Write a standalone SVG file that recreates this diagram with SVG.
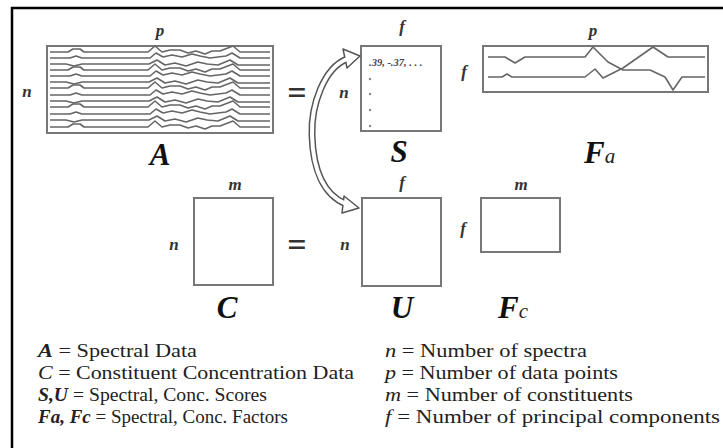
<svg xmlns="http://www.w3.org/2000/svg" width="723" height="448" viewBox="0 0 723 448">
  <style>
    .frame { fill: none; stroke: #000; stroke-width: 2.5; }
    .mat { fill: #fff; stroke: #777; stroke-width: 2; }
    .spec { fill: none; stroke: #666; stroke-width: 1.6; stroke-linejoin: round; }
    .dim { font-family: "Liberation Serif", serif; font-style: italic; font-weight: bold; font-size: 17px; fill: #333; }
    .big { font-family: "Liberation Serif", serif; font-style: italic; font-weight: bold; font-size: 31px; fill: #111; }
    .sub { font-family: "Liberation Serif", serif; font-style: italic; font-size: 21px; fill: #222; }
    .eq { font-family: "Liberation Serif", serif; font-weight: bold; font-size: 34px; fill: #333; }
    .leg { font-family: "Liberation Serif", serif; font-size: 18px; fill: #222; }
    .bi { font-style: italic; font-weight: bold; }
    .it { font-style: italic; }
    .arrow-out { fill: none; stroke: #555; stroke-width: 7; }
    .arrow-in { fill: none; stroke: #fff; stroke-width: 4; }
    .head { fill: #fff; stroke: #555; stroke-width: 1.5; stroke-linejoin: round; }
  </style>
  <defs>
    <path id="specA" d="M50,0 H68 L73,-3 H80 L84,0 H148 L155,-6 L162,0 L170,-2 H180 L188,1 L196,-1 L205,2 L212,-1 L220,-1 L233,-6 L240,0 H270"/>
    <path id="specB" d="M50,0 H70 L76,-2 L82,0 H150 L156,-5 L163,-1 L172,-3 L182,-1 L192,-4 L200,-2 L210,0 L226,-2 L232,-5 L240,0 H270"/>
    <path id="specC" d="M50,0 H66 L74,2 L82,0 H149 L157,-4 L165,1 L175,-1 L186,2 L198,-2 L207,0 L218,1 L230,-4 L238,1 H270"/>
  </defs>

  <!-- frame -->
  <path class="frame" d="M12,448 V8 H723"/>

  <!-- A : spectral data -->
  <g id="matrix-A">
    <rect class="mat" x="47" y="46" width="226" height="87"/>
    <g class="spec">
      <use href="#specA" y="52"/>
      <use href="#specB" y="58"/>
      <use href="#specC" y="64"/>
      <use href="#specA" y="70"/>
      <use href="#specB" y="76"/>
      <use href="#specC" y="82"/>
      <use href="#specA" y="88"/>
      <use href="#specB" y="95"/>
      <use href="#specC" y="101"/>
      <use href="#specA" y="107"/>
      <use href="#specB" y="114"/>
      <use href="#specC" y="120"/>
      <use href="#specA" y="127"/>
    </g>
    <text class="dim" x="160" y="36" text-anchor="middle">p</text>
    <text class="dim" x="27" y="97" text-anchor="middle">n</text>
    <text class="big" x="160" y="165" text-anchor="middle">A</text>
  </g>

  <text class="eq" x="297" y="104" text-anchor="middle">=</text>

  <!-- S : spectral scores -->
  <g id="matrix-S">
    <rect class="mat" x="361" y="46" width="80" height="85"/>
    <text class="dim" x="402" y="32" text-anchor="middle">f</text>
    <text class="dim" x="344" y="98" text-anchor="middle">n</text>
    <text x="369" y="66" font-family="Liberation Serif, serif" font-style="italic" font-weight="bold" font-size="10.5" fill="#444">.39, -.37, . . .</text>
    <g fill="#888">
      <circle cx="370" cy="79" r="1.2"/>
      <circle cx="370" cy="94" r="1.2"/>
      <circle cx="370" cy="110" r="1.2"/>
      <circle cx="370" cy="126" r="1.2"/>
    </g>
    <text class="big" x="399" y="162" text-anchor="middle">S</text>
  </g>

  <!-- Fa : spectral factors -->
  <g id="matrix-Fa">
    <rect class="mat" x="483" y="46" width="225" height="46"/>
    <path class="spec" d="M488,57 H505 L515,63 L525,57 H585 L593,47 L608,62 L623,70 H650 L665,77 L673,90 L682,77 H705"/>
    <path class="spec" d="M488,77 H502 L507,74 L512,77 H585 L595,69 L603,78 L623,68 L653,47 L668,57 H705"/>
    <text class="dim" x="593" y="36" text-anchor="middle">p</text>
    <text class="dim" x="464" y="77" text-anchor="middle">f</text>
    <text x="584" y="163"><tspan class="big">F</tspan><tspan class="sub">a</tspan></text>
  </g>

  <!-- C : concentration data -->
  <g id="matrix-C">
    <rect class="mat" x="194" y="198" width="79" height="87"/>
    <text class="dim" x="235" y="190" text-anchor="middle">m</text>
    <text class="dim" x="174" y="250" text-anchor="middle">n</text>
    <text class="big" x="227" y="318" text-anchor="middle">C</text>
  </g>

  <text class="eq" x="297" y="256" text-anchor="middle">=</text>

  <!-- U : concentration scores -->
  <g id="matrix-U">
    <rect class="mat" x="362" y="198" width="79" height="88"/>
    <text class="dim" x="402" y="188" text-anchor="middle">f</text>
    <text class="dim" x="345" y="250" text-anchor="middle">n</text>
    <text class="big" x="402" y="318" text-anchor="middle">U</text>
  </g>

  <!-- Fc : concentration factors -->
  <g id="matrix-Fc">
    <rect class="mat" x="481" y="198" width="79" height="54"/>
    <text class="dim" x="521" y="190" text-anchor="middle">m</text>
    <text class="dim" x="463" y="234" text-anchor="middle">f</text>
    <text x="498" y="318"><tspan class="big">F</tspan><tspan class="sub">c</tspan></text>
  </g>

  <!-- hollow double-headed arrow linking S and U -->
  <g id="connectors">
    <path class="arrow-out" d="M347,59 C324,68 311,105 312,135 C313,170 324,195 346,204"/>
    <polygon class="head" points="343,49 360,56 347,68"/>
    <polygon class="head" points="344,196 359,208 342,213"/>
    <path class="arrow-in" d="M349,58.5 L347,59 C324,68 311,105 312,135 C313,170 324,195 346,204 L348,205"/>
  </g>

  <!-- legend -->
  <g id="legend-left" class="leg">
    <text x="38" y="357" textLength="159" lengthAdjust="spacingAndGlyphs"><tspan class="bi">A</tspan> = Spectral Data</text>
    <text x="38" y="379" textLength="316" lengthAdjust="spacingAndGlyphs"><tspan class="it">C</tspan> = Constituent Concentration Data</text>
    <text x="38" y="401" textLength="229" lengthAdjust="spacingAndGlyphs"><tspan class="bi">S,U</tspan> = Spectral, Conc. Scores</text>
    <text x="38" y="423" textLength="250" lengthAdjust="spacingAndGlyphs"><tspan class="bi">Fa, Fc</tspan> = Spectral, Conc. Factors</text>
  </g>
  <g id="legend-right" class="leg">
    <text x="385" y="357" textLength="202" lengthAdjust="spacingAndGlyphs"><tspan class="it">n</tspan> = Number of spectra</text>
    <text x="385" y="379" textLength="233" lengthAdjust="spacingAndGlyphs"><tspan class="it">p</tspan> = Number of data points</text>
    <text x="385" y="401" textLength="248" lengthAdjust="spacingAndGlyphs"><tspan class="it">m</tspan> = Number of constituents</text>
    <text x="385" y="423" textLength="335" lengthAdjust="spacingAndGlyphs"><tspan class="it">f</tspan> = Number of  principal components</text>
  </g>
</svg>
